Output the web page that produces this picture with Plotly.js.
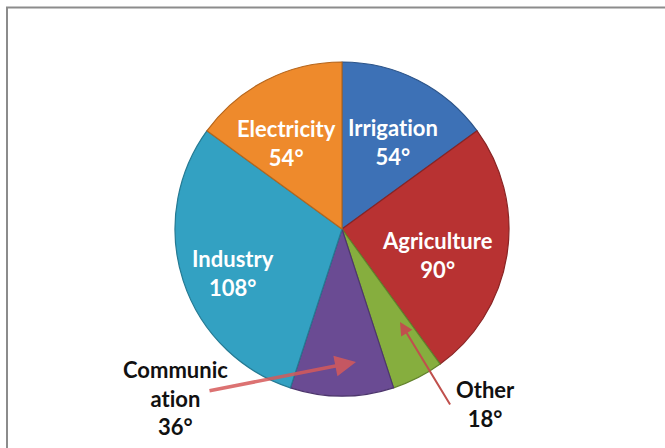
<!DOCTYPE html>
<html>
<head>
<meta charset="utf-8">
<script src="https://cdn.plot.ly/plotly-3.0.1.min.js"></script>
<style>
html,body{margin:0;padding:0;background:#fff;}
#chart{width:665px;height:448px;}
svg text{font-variant-ligatures:none !important;font-feature-settings:"liga" 0,"clig" 0 !important;}
</style>
</head>
<body>
<div id="chart"></div>
<script>
// Data
var categories = ["Irrigation", "Agriculture", "Other", "Communication", "Industry", "Electricity"];
var degrees = [54, 90, 18, 36, 108, 54];
var labelLines = [["Irrigation"], ["Agriculture"], ["Other"], ["Communic", "ation"], ["Industry"], ["Electricity"]];
var colors = ["#3d71b6", "#b83232", "#86ae3e", "#6a4b93", "#33a1c2", "#ee8a2c"];
var borderColors = ["#2c5489", "#8a2424", "#62822c", "#4d366d", "#257a93", "#b5661d"];

// Label layout (pixel centres in the 665x448 page) and styling
var W = 665, H = 448;
var labelPos = [[393, 142], [437, 255], [485, 404], [176, 398], [233, 273], [286, 143]];
var insideLabel = [true, true, false, false, true, true];
var arrows = {
  2: {tip: [400, 322], tail: [451, 406], color: "#c0504d", width: 2, size: 1.3},
  3: {tip: [356, 362], tail: [208, 391], color: "rgba(214,90,90,0.85)", width: 3.5, size: 1.2}
};

var cx = 342, cy = 229, r = 167;

var trace = {
  type: "pie",
  labels: categories,
  values: degrees,
  sort: false,
  direction: "clockwise",
  rotation: 0,
  textinfo: "none",
  hoverinfo: "label+value",
  marker: {colors: colors, line: {color: borderColors, width: 1.2}},
  domain: {x: [(cx - r) / W, (cx + r) / W], y: [(H - cy - r) / H, (H - cy + r) / H]},
  showlegend: false
};

var annotations = [];
for (var i = 0; i < categories.length; i++) {
  var lines = labelLines[i].concat([degrees[i] + "°"]);
  annotations.push({
    xref: "paper", yref: "paper",
    x: labelPos[i][0] / W, y: 1 - labelPos[i][1] / H,
    xanchor: "center", yanchor: "middle",
    text: lines.join("<br>"),
    showarrow: false,
    font: {family: "Lato, 'Open Sans', sans-serif", size: 22, color: insideLabel[i] ? "#ffffff" : "#111111", weight: 700}
  });
  if (arrows[i]) {
    var a = arrows[i];
    annotations.push({
      xref: "paper", yref: "paper",
      x: a.tip[0] / W, y: 1 - a.tip[1] / H,
      axref: "pixel", ayref: "pixel",
      ax: a.tail[0] - a.tip[0], ay: a.tail[1] - a.tip[1],
      text: "", showarrow: true,
      arrowhead: 2, arrowsize: a.size, arrowwidth: a.width, arrowcolor: a.color
    });
  }
}

var layout = {
  width: W, height: H,
  margin: {l: 0, r: 0, t: 0, b: 0},
  paper_bgcolor: "#ffffff",
  plot_bgcolor: "#ffffff",
  annotations: annotations,
  shapes: [{
    type: "rect", xref: "paper", yref: "paper",
    x0: 7 / W, x1: 1.02, y0: -0.02, y1: 1 - 7.5 / H,
    line: {color: "#8c8c8c", width: 2}, fillcolor: "rgba(0,0,0,0)", layer: "below"
  }]
};

Plotly.newPlot("chart", [trace], layout, {displayModeBar: false, staticPlot: true});
</script>
</body>
</html>
